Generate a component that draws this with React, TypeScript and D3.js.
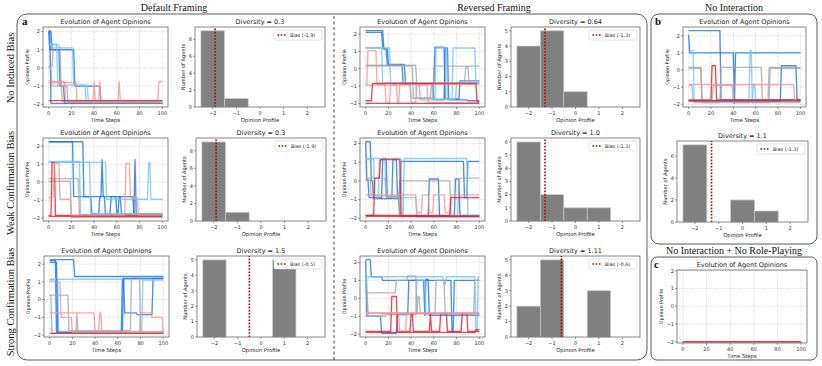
import React from "react";
import * as d3 from "d3";

type Pt = [number, number];
interface Agent { persona: number; path: Pt[] }

// ---------- tick labels ----------
const TIME_TICKS = [0, 20, 40, 60, 80, 100];
const OPINION_TICKS = [-2, -1, 0, 1, 2];
const BIN_CENTERS = [-2, -1, 0, 1, 2];

// ---------- agent opinion trajectories (change points [time, opinion]) ----------
const defaultNone: Agent[] = [
  { persona: 2, path: [[0, 2.05], [2, -1.95]] },
  { persona: 2, path: [[0, 2.0], [3, 1.0], [10, -1.0], [14, -1.95]] },
  { persona: 2, path: [[0, 2.0], [1, 1.0], [23, -1.0], [46, -1.95]] },
  { persona: 1, path: [[0, 1.25], [10, 1.1], [22, -0.95], [35, -1.9]] },
  { persona: 1, path: [[0, 1.3], [8, -0.95], [33, -1.85]] },
  { persona: 0, path: [[0, 0.1], [4, 1.1], [11, -1.0], [17, -1.9]] },
  { persona: 0, path: [[0, 0.05], [3, -1.0], [12, -1.85]] },
  { persona: -1, path: [[0, -0.75], [15, -1.8], [40, -0.75], [41, -1.8], [45, -0.75], [46, -1.8], [62, -0.75], [63, -1.8], [97, -0.75]] },
  { persona: -1, path: [[0, -0.8], [25, -1.85]] },
  { persona: -2, path: [[0, -1.8]] },
];
const defaultWeak: Agent[] = [
  { persona: 2, path: [[0, 2.25], [22, -0.8], [47, 1.25], [48, -0.8], [75, -1.75]] },
  { persona: 2, path: [[0, 2.25], [31, -0.8], [38, -1.75], [45, -0.8], [50, -1.75], [55, -0.8], [60, -1.75], [62, -0.8], [64, -1.75], [76, 1.25], [77, -1.75]] },
  { persona: 1, path: [[0, 1.15], [28, -1.8]] },
  { persona: 1, path: [[0, 1.1], [37, -1.75]] },
  { persona: 1, path: [[0, 1.1], [51, -0.95], [88, 1.1], [90, -0.95]] },
  { persona: 0, path: [[0, 0.2], [27, -1.9]] },
  { persona: 0, path: [[0, 0.05], [20, -1.95]] },
  { persona: -2, path: [[0, -1.85], [3, 1.1], [6, -1.85]] },
  { persona: -1, path: [[0, -0.85], [5, 1.05], [10, -0.95], [20, -1.85], [68, 1.05], [72, -0.85], [79, -1.85]] },
  { persona: -2, path: [[0, -1.9]] },
];
const defaultStrong: Agent[] = [
  { persona: 2, path: [[0, 2.25], [22, 1.3]] },
  { persona: 2, path: [[0, 2.2], [6, -1.85], [64, 1.15], [66, -0.75], [77, -0.85], [91, 1.2]] },
  { persona: 1, path: [[0, 1.15]] },
  { persona: 1, path: [[0, 1.1], [8, -1.8], [82, 1.1]] },
  { persona: 2, path: [[0, 2.1], [7, -1.85], [65, 1.2]] },
  { persona: 0, path: [[0, 0.25], [17, -1.75], [72, 1.25], [80, -1.8]] },
  { persona: 0, path: [[0, 0.25], [2, -1.9], [24, -0.75], [25, -1.9]] },
  { persona: -1, path: [[0, 1.0], [10, -1.0], [20, -1.85]] },
  { persona: -1, path: [[0, -0.75], [40, -1.85], [44, -0.75], [46, -1.85], [80, -0.75], [90, -1.0], [100, -1.9]] },
  { persona: -2, path: [[0, -1.9]] },
];
const reversedNone: Agent[] = [
  { persona: 2, path: [[0, 2.2], [16, 1.15], [20, 0.25], [35, -0.85], [61, 1.25], [70, -1.75], [83, -0.7]] },
  { persona: 2, path: [[0, 2.1], [15, 1.15], [19, 0.2], [33, -0.85], [60, -1.8], [70, 1.2], [73, -1.8], [90, -1.85]] },
  { persona: 1, path: [[0, 1.2], [15, -0.8], [40, -1.7], [62, 1.2], [72, -1.75], [77, 1.2], [97, -0.8]] },
  { persona: 1, path: [[0, 1.2], [22, -0.8], [45, -1.7], [60, -1.75], [80, -0.8]] },
  { persona: 0, path: [[0, 0.2], [45, -0.85], [48, -1.8], [60, 0.15]] },
  { persona: 0, path: [[0, 0.15], [42, -1.7], [58, -0.8], [88, 0.1], [91, -0.85]] },
  { persona: -1, path: [[0, -0.9], [2, 1.05], [10, -0.9], [18, -2.0], [22, -0.9], [28, -2.0], [30, -0.9]] },
  { persona: -1, path: [[0, -0.95], [40, -1.95], [45, -0.95], [55, -1.95]] },
  { persona: -2, path: [[0, -1.85], [6, -0.85], [98, -1.9]] },
  { persona: -2, path: [[0, -2.0]] },
];
const reversedWeak: Agent[] = [
  { persona: 2, path: [[0, 2.1], [5, 0.0], [7, -0.95], [30, -1.9], [56, 0.1], [65, -1.9], [79, 0.1], [83, -1.85]] },
  { persona: 2, path: [[0, 2.1], [1, 0.05], [3, -0.9], [15, 1.2], [19, -0.9], [24, 1.15], [28, -0.9], [31, 1.05], [87, -0.9], [90, 1.05]] },
  { persona: 1, path: [[0, 1.2], [32, -1.95], [34, 1.2], [90, -1.85]] },
  { persona: 1, path: [[0, 1.15], [8, -0.95], [12, 1.1], [18, -0.9], [45, -1.95]] },
  { persona: 0, path: [[0, 0.15], [18, -0.85], [30, 0.0], [75, -1.85], [82, 0.15]] },
  { persona: 0, path: [[0, 0.05], [5, -0.8], [30, -1.9]] },
  { persona: -2, path: [[0, -1.85], [8, 0.15], [13, 1.15], [31, -1.9]] },
  { persona: -1, path: [[0, -0.75], [45, -1.7], [50, -0.75], [56, -1.7], [60, -0.75], [70, -1.7], [75, -0.75]] },
  { persona: -2, path: [[0, -1.85], [75, -0.9]] },
  { persona: -2, path: [[0, -1.9]] },
];
const reversedStrong: Agent[] = [
  { persona: 2, path: [[0, 2.15], [5, 1.2], [15, 1.0], [76, -1.9], [78, 1.0]] },
  { persona: 2, path: [[0, 2.1], [1, -1.0], [14, -1.95], [28, -0.9], [38, 1.0], [52, -0.95], [53, 1.05], [56, -0.95]] },
  { persona: 1, path: [[0, 1.2], [69, 0.75], [71, 1.2], [97, -1.8], [99, 1.2]] },
  { persona: 1, path: [[0, 1.05], [2, -1.0], [15, -0.85], [45, 1.0], [53, -0.9]] },
  { persona: 0, path: [[0, 0.3], [27, 1.0], [37, 1.25], [45, -0.85], [62, 1.0], [70, -0.85]] },
  { persona: 0, path: [[0, 0.3], [2, -1.0], [18, -0.9], [46, 0.1], [48, -0.85], [96, 1.0]] },
  { persona: -2, path: [[0, -1.85], [23, 0.1], [28, -1.85], [40, -0.85], [42, -1.85], [57, -0.85], [58, -1.85], [66, -0.85], [72, -1.85], [85, -0.85], [90, -1.85]] },
  { persona: -1, path: [[0, -0.8]] },
  { persona: -1, path: [[0, -0.85], [30, -1.9], [36, -0.85]] },
  { persona: -2, path: [[0, -1.9], [97, -1.75]] },
];
const noInteraction: Agent[] = [
  { persona: 2, path: [[0, 2.3], [29, -1.75]] },
  { persona: 2, path: [[0, 2.05], [1, 1.0], [41, -1.95], [42, 1.0]] },
  { persona: 1, path: [[0, 1.15], [5, -1.9], [55, 1.15], [57, -1.9]] },
  { persona: 1, path: [[0, -0.9], [4, -1.85], [58, -0.85], [60, -1.85]] },
  { persona: 2, path: [[0, -1.8], [83, 0.25], [97, -1.75]] },
  { persona: 0, path: [[0, 0.15], [12, -1.9], [29, 0.15], [66, -1.85], [72, 0.15]] },
  { persona: 0, path: [[0, 0.1], [12, -1.85], [22, -0.9], [40, -1.9], [73, 0.1]] },
  { persona: -2, path: [[0, -1.75], [21, 0.25], [25, -1.75]] },
  { persona: -1, path: [[0, -0.85], [95, -1.85]] },
  { persona: -2, path: [[0, -1.8]] },
];
const noRolePlay: Agent[] = [
  { persona: -1, path: [[0, -2.0]] },
  { persona: -2, path: [[0, -2.0]] },
];

// ---------- histogram counts (bins centred on -2..2) ----------
const countsDefaultNone = [9, 1, 0, 0, 0];
const countsDefaultWeak = [9, 1, 0, 0, 0];
const countsDefaultStrong = [5, 0, 0, 5, 0];
const countsReversedNone = [4, 5, 1, 0, 0];
const countsReversedWeak = [6, 2, 1, 1, 0];
const countsReversedStrong = [2, 5, 0, 3, 0];
const countsNoInteraction = [7, 0, 2, 1, 0];

const biasValues = { dn: -1.9, dw: -1.9, ds: -0.5, rn: -1.3, rw: -1.3, rs: -0.6, ni: -1.3 };
const diversityLabels = { dn: "0.3", dw: "0.3", ds: "1.5", rn: "0.64", rw: "1.0", rs: "1.11", ni: "1.1" };
const countTicks5 = [0, 1, 2, 3, 4, 5];
const countTicks6 = [0, 1, 2, 3, 4, 5, 6];
const countTicksEven = [0, 2, 4, 6, 8];
const countTicksEven6 = [0, 2, 4, 6];

// ---------- styling ----------
const FONT = "DejaVu Sans, Verdana, sans-serif";
const SERIF = "Liberation Serif, Times New Roman, serif";
const personaColor = d3
  .scaleOrdinal<number, string>()
  .domain([-2, -1, 0, 1, 2])
  .range(["#ef1c24", "#f59393", "#a6a6a6", "#72c3fa", "#1a72ec"]);

const fmt = (v: number) => (v < 0 ? "\u2212" + Math.abs(v) : String(v));

function expand(path: Pt[]): Pt[] {
  const out: Pt[] = [];
  path.forEach(([t, v], i) => {
    out.push([t, v]);
    const end = i + 1 < path.length ? path[i + 1][0] - 1 : 100;
    if (end > t) out.push([end, v]);
  });
  return out;
}

interface LCProps { x: number; y: number; w: number; h: number; agents: Agent[]; yDomain?: [number, number] }

function LineChart({ x, y, w, h, agents, yDomain }: LCProps) {
  const xs = d3.scaleLinear().domain([-5, 105]).range([x, x + w]);
  const series = agents.map((a) => ({ persona: a.persona, pts: expand(a.path) }));
  let dom = yDomain;
  if (!dom) {
    const ext = d3.extent(series.flatMap((s) => s.pts.map((p) => p[1]))) as [number, number];
    const pad = (ext[1] - ext[0]) * 0.05;
    dom = [ext[0] - pad, ext[1] + pad];
  }
  const ys = d3.scaleLinear().domain(dom).range([y + h, y]);
  const line = d3.line<Pt>().x((d) => xs(d[0])).y((d) => ys(d[1]));
  return (
    <g fontFamily={FONT}>
      <rect x={x} y={y} width={w} height={h} fill="#fff" />
      {TIME_TICKS.map((t) => (
        <line key={"gx" + t} x1={xs(t)} x2={xs(t)} y1={y} y2={y + h} stroke="#c4c4c4" strokeWidth={0.6} strokeDasharray="1.2,1.2" />
      ))}
      {OPINION_TICKS.map((v) => (
        <line key={"gy" + v} x1={x} x2={x + w} y1={ys(v)} y2={ys(v)} stroke="#c4c4c4" strokeWidth={0.6} strokeDasharray="1.2,1.2" />
      ))}
      {series.map((s, i) => (
        <path key={i} d={line(s.pts) || ""} fill="none" stroke={personaColor(s.persona)} strokeWidth={1.35} strokeOpacity={0.8} strokeLinejoin="round" />
      ))}
      <rect x={x} y={y} width={w} height={h} fill="none" stroke="#555" strokeWidth={0.7} />
      {TIME_TICKS.map((t) => (
        <g key={"tx" + t}>
          <line x1={xs(t)} x2={xs(t)} y1={y + h} y2={y + h + 2} stroke="#555" strokeWidth={0.6} />
          <text x={xs(t)} y={y + h + 7.6} fontSize={5} textAnchor="middle" fill="#333">{fmt(t)}</text>
        </g>
      ))}
      {OPINION_TICKS.map((v) => (
        <g key={"ty" + v}>
          <line x1={x - 2} x2={x} y1={ys(v)} y2={ys(v)} stroke="#555" strokeWidth={0.6} />
          <text x={x - 3} y={ys(v) + 1.8} fontSize={5} textAnchor="end" fill="#333">{fmt(v)}</text>
        </g>
      ))}
      <text x={x + w / 2} y={y - 3} fontSize={6.5} textAnchor="middle" fill="#222">Evolution of Agent Opinions</text>
      <text x={x + w / 2} y={y + h + 14.8} fontSize={5.3} textAnchor="middle" fill="#222">Time Steps</text>
      <text transform={`translate(${x - 14},${y + h / 2}) rotate(-90)`} fontSize={4.9} textAnchor="middle" fill="#222">Opinion Profile</text>
    </g>
  );
}

interface HProps { x: number; y: number; w: number; h: number; counts: number[]; bias: number; diversity: string; yTicks: number[] }

function Hist({ x, y, w, h, counts, bias, diversity, yTicks }: HProps) {
  const xs = d3.scaleLinear().domain([-2.75, 2.75]).range([x, x + w]);
  const maxC = d3.max(counts) || 1;
  const ys = d3.scaleLinear().domain([0, maxC * 1.05]).range([y + h, y]);
  const lx = x + w - 51;
  const ly = y + 3;
  return (
    <g fontFamily={FONT}>
      <rect x={x} y={y} width={w} height={h} fill="#fff" />
      {BIN_CENTERS.map((c, i) =>
        counts[i] > 0 ? (
          <rect key={i} x={xs(c - 0.5)} y={ys(counts[i])} width={xs(c + 0.5) - xs(c - 0.5)} height={ys(0) - ys(counts[i])} fill="#808080" stroke="#c9c9c9" strokeWidth={0.7} />
        ) : null
      )}
      <line x1={xs(bias)} x2={xs(bias)} y1={y + h} y2={y} stroke="#b00000" strokeWidth={1.6} strokeDasharray="1.6,1.6" />
      <rect x={x} y={y} width={w} height={h} fill="none" stroke="#555" strokeWidth={0.7} />
      {BIN_CENTERS.map((c) => (
        <g key={"tx" + c}>
          <line x1={xs(c)} x2={xs(c)} y1={y + h} y2={y + h + 2} stroke="#555" strokeWidth={0.6} />
          <text x={xs(c)} y={y + h + 7.6} fontSize={5} textAnchor="middle" fill="#333">{fmt(c)}</text>
        </g>
      ))}
      {yTicks.map((v) => (
        <g key={"ty" + v}>
          <line x1={x - 2} x2={x} y1={ys(v)} y2={ys(v)} stroke="#555" strokeWidth={0.6} />
          <text x={x - 3} y={ys(v) + 1.8} fontSize={5} textAnchor="end" fill="#333">{fmt(v)}</text>
        </g>
      ))}
      <rect x={lx} y={ly} width={48} height={10} rx={1.5} fill="#fff" stroke="#d0d0d0" strokeWidth={0.6} />
      <line x1={lx + 3.5} x2={lx + 13} y1={ly + 5} y2={ly + 5} stroke="#b00000" strokeWidth={1.6} strokeDasharray="1.6,1.6" />
      <text x={lx + 16} y={ly + 6.8} fontSize={4.9} fill="#222">{`Bias (${bias})`}</text>
      <text x={x + w / 2} y={y - 3} fontSize={6.5} textAnchor="middle" fill="#222">{`Diversity = ${diversity}`}</text>
      <text x={x + w / 2} y={y + h + 14.8} fontSize={5.3} textAnchor="middle" fill="#222">Opinion Profile</text>
      <text transform={`translate(${x - 10},${y + h / 2}) rotate(-90)`} fontSize={5.1} textAnchor="middle" fill="#222">Number of Agents</text>
    </g>
  );
}

export default function App() {
  const rowY = [27, 138, 256];
  const rowH = [80, 83, 81];
  return (
    <svg width={822} height={366} style={{ position: "absolute", left: 0, top: 0, background: "#fff" }}>
      <rect x={0} y={0} width={822} height={366} fill="#fff" />
      {/* frames */}
      <rect x={17} y={14} width={630} height={346} rx={10} fill="none" stroke="#5a5a5a" strokeWidth={1} />
      <rect x={651} y={14} width={166} height={230} rx={8} fill="none" stroke="#5a5a5a" strokeWidth={1} />
      <rect x={651} y={257} width={166} height={103} rx={6} fill="none" stroke="#5a5a5a" strokeWidth={1} />
      <line x1={334} x2={334} y1={16} y2={360} stroke="#333" strokeWidth={0.9} strokeDasharray="3,2.5" />

      {/* headers */}
      <g fontFamily={SERIF} fill="#111" fontSize={10}>
        <text x={174} y={11} textAnchor="middle">Default Framing</text>
        <text x={494} y={11} textAnchor="middle">Reversed Framing</text>
        <text x={734} y={11} textAnchor="middle">No Interaction</text>
        <text x={734} y={254} textAnchor="middle">No Interaction + No Role-Playing</text>
      </g>
      <g fontFamily={SERIF} fill="#111" fontSize={10.5}>
        <text transform="translate(14,68) rotate(-90)" textAnchor="middle">No Induced Bias</text>
        <text transform="translate(14,183) rotate(-90)" textAnchor="middle">Weak Confirmation Bias</text>
        <text transform="translate(14,302) rotate(-90)" textAnchor="middle">Strong Confirmation Bias</text>
      </g>
      <g fontFamily={SERIF} fill="#111" fontWeight="bold" fontSize={11}>
        <text x={22} y={25}>a</text>
        <text x={655} y={25}>b</text>
        <text x={654} y={268}>c</text>
      </g>

      {/* Default framing */}
      <LineChart x={43} y={rowY[0]} w={125} h={rowH[0]} agents={defaultNone} />
      <Hist x={195} y={rowY[0]} w={130} h={rowH[0]} counts={countsDefaultNone} bias={biasValues.dn} diversity={diversityLabels.dn} yTicks={countTicksEven} />
      <LineChart x={43} y={rowY[1]} w={125} h={rowH[1]} agents={defaultWeak} />
      <Hist x={196} y={rowY[1]} w={130} h={rowH[1]} counts={countsDefaultWeak} bias={biasValues.dw} diversity={diversityLabels.dw} yTicks={countTicksEven} />
      <LineChart x={44} y={rowY[2]} w={125} h={rowH[2]} agents={defaultStrong} />
      <Hist x={197} y={rowY[2]} w={128} h={rowH[2]} counts={countsDefaultStrong} bias={biasValues.ds} diversity={diversityLabels.ds} yTicks={countTicks5} />

      {/* Reversed framing */}
      <LineChart x={360} y={rowY[0]} w={125} h={rowH[0]} agents={reversedNone} />
      <Hist x={511} y={rowY[0]} w={129} h={rowH[0]} counts={countsReversedNone} bias={biasValues.rn} diversity={diversityLabels.rn} yTicks={countTicks5} />
      <LineChart x={360} y={rowY[1]} w={125} h={rowH[1]} agents={reversedWeak} />
      <Hist x={511} y={rowY[1]} w={129} h={rowH[1]} counts={countsReversedWeak} bias={biasValues.rw} diversity={diversityLabels.rw} yTicks={countTicks6} />
      <LineChart x={360} y={rowY[2]} w={125} h={rowH[2]} agents={reversedStrong} />
      <Hist x={511} y={rowY[2]} w={129} h={rowH[2]} counts={countsReversedStrong} bias={biasValues.rs} diversity={diversityLabels.rs} yTicks={countTicks5} />

      {/* No interaction */}
      <LineChart x={683} y={rowY[0]} w={123} h={rowH[0]} agents={noInteraction} />
      <Hist x={677} y={141} w={131} h={81} counts={countsNoInteraction} bias={biasValues.ni} diversity={diversityLabels.ni} yTicks={countTicksEven6} />
      <LineChart x={677} y={270} w={130} h={73} agents={noRolePlay} yDomain={[-2.07, 2.04]} />
    </svg>
  );
}
